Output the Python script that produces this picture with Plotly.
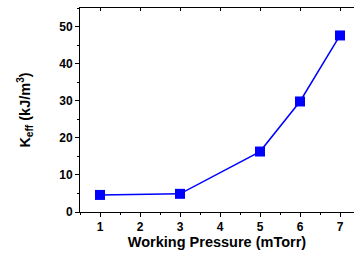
import plotly.graph_objects as go

pressure = [1, 3, 5, 6, 7]
keff = [4.6, 4.9, 16.3, 29.8, 47.6]
x_ticks = [1, 2, 3, 4, 5, 6, 7]
y_ticks = [0, 10, 20, 30, 40, 50]

font = dict(family="Liberation Sans, Arial, sans-serif", color="black")
x_range = [0.5, 7.35]

fig = go.Figure()
fig.add_trace(go.Scatter(
    x=pressure, y=keff, mode="lines+markers",
    line=dict(color="#0000FF", width=1.5),
    marker=dict(symbol="square", size=10, color="#0000FF"),
    showlegend=False, cliponaxis=False,
))
fig.add_trace(go.Scatter(x=[1], y=[0], xaxis="x2", mode="markers",
                         marker=dict(opacity=0), showlegend=False, hoverinfo="skip"))

fig.update_layout(
    width=354, height=255,
    margin=dict(l=80, r=0, t=8, b=43, autoexpand=False),
    paper_bgcolor="white", plot_bgcolor="white",
    font=font,
    xaxis=dict(
        range=x_range, tickvals=x_ticks, ticktext=[f"<b>{v}</b>" for v in x_ticks],
        showgrid=False, zeroline=False, showline=True, linecolor="black", linewidth=1,
        ticks="outside", ticklen=4, tickcolor="black",
        minor=dict(dtick=0.5, tick0=0.5, ticks="outside", ticklen=2, tickcolor="black"),
        tickfont=dict(size=12, family=font["family"]),
        title=dict(text="<b>Working Pressure (mTorr)</b>", font=dict(size=14.5), standoff=3),
        automargin=False,
    ),
    xaxis2=dict(
        overlaying="x", side="top", range=x_range,
        tickvals=x_ticks, showticklabels=False, showgrid=False, zeroline=False,
        showline=True, linecolor="black", linewidth=1,
        ticks="inside", ticklen=3, tickcolor="black",
    ),
    yaxis=dict(
        range=[0, 55], tickvals=y_ticks, ticktext=[f"<b>{v}</b>" for v in y_ticks],
        showgrid=False, zeroline=False, showline=True, linecolor="black", linewidth=1,
        ticks="outside", ticklen=4, tickcolor="black",
        minor=dict(dtick=5, tick0=0, ticks="outside", ticklen=2, tickcolor="black"),
        tickfont=dict(size=12, family=font["family"]),
        title=dict(text="<b>K<sub>eff</sub> (kJ/m<sup>3</sup>)</b>", font=dict(size=14.5), standoff=25),
        automargin=False,
    ),
)

fig.write_html(
    "out.html",
    config={"displayModeBar": False},
    post_script="document.body.style.margin='0';document.body.style.overflow='hidden';",
)
